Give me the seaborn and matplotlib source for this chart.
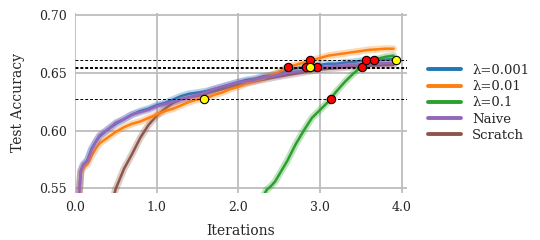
import numpy as np
import pandas as pd
import matplotlib
matplotlib.use("Agg")
import matplotlib.pyplot as plt
import seaborn as sns

# --- data ---
labels = ["λ=0.001", "λ=0.01", "λ=0.1", "Naive", "Scratch"]
colors = ["#1f77b4", "#ff7f0e", "#2ca02c", "#9467bd", "#8c564b"]

x_main = [0.05, 0.07, 0.1, 0.15, 0.2, 0.25, 0.3, 0.4, 0.5, 0.6, 0.7, 0.8, 0.9,
          1.0, 1.1, 1.2, 1.3, 1.4, 1.5, 1.6, 1.7, 1.8, 1.9, 2.0, 2.1, 2.2, 2.3,
          2.4, 2.5, 2.6, 2.7, 2.8, 2.9, 3.0, 3.1, 3.2, 3.3, 3.4, 3.5, 3.6, 3.7,
          3.8, 3.9]
acc_l0001 = [0.545, 0.565, 0.570, 0.574, 0.584, 0.590, 0.595, 0.601, 0.606, 0.610,
             0.614, 0.617, 0.619, 0.622, 0.624, 0.627, 0.630, 0.632, 0.633, 0.634,
             0.636, 0.638, 0.640, 0.642, 0.644, 0.645, 0.647, 0.648, 0.650, 0.652,
             0.654, 0.655, 0.656, 0.657, 0.658, 0.658, 0.659, 0.6595, 0.6605,
             0.661, 0.661, 0.6615, 0.662]
acc_l001 = [0.545, 0.563, 0.568, 0.571, 0.578, 0.584, 0.589, 0.594, 0.599, 0.603,
            0.606, 0.608, 0.611, 0.614, 0.617, 0.619, 0.622, 0.625, 0.627, 0.628,
            0.631, 0.633, 0.636, 0.638, 0.641, 0.643, 0.645, 0.648, 0.651, 0.655,
            0.657, 0.659, 0.661, 0.663, 0.665, 0.666, 0.667, 0.668, 0.669, 0.670,
            0.6705, 0.671, 0.671]
acc_naive = [0.545, 0.565, 0.571, 0.574, 0.583, 0.590, 0.596, 0.601, 0.607, 0.610,
             0.614, 0.616, 0.618, 0.621, 0.623, 0.625, 0.627, 0.629, 0.631, 0.633,
             0.636, 0.638, 0.640, 0.642, 0.643, 0.644, 0.646, 0.647, 0.648, 0.650,
             0.651, 0.652, 0.6535, 0.6545, 0.6555, 0.656, 0.6565, 0.657, 0.6575,
             0.658, 0.658, 0.6585, 0.6585]

x_l01 = [2.3, 2.35, 2.4, 2.45, 2.5, 2.6, 2.7, 2.8, 2.9, 3.0, 3.1, 3.2, 3.3, 3.4,
         3.5, 3.6, 3.7, 3.8, 3.9]
acc_l01 = [0.543, 0.549, 0.552, 0.556, 0.562, 0.574, 0.588, 0.600, 0.611, 0.618,
           0.625, 0.634, 0.642, 0.649, 0.655, 0.659, 0.662, 0.664, 0.665]

x_scratch = [0.48, 0.5, 0.6, 0.7, 0.8, 0.9, 1.0, 1.1, 1.2, 1.3, 1.4, 1.5, 1.6,
             1.8, 2.0, 2.5, 3.0, 3.5, 3.9]
acc_scratch = [0.545, 0.550, 0.567, 0.580, 0.594, 0.605, 0.613, 0.619, 0.624,
               0.627, 0.629, 0.630, 0.632, 0.636, 0.640, 0.647, 0.653, 0.656, 0.657]

thresholds = [0.661, 0.6555, 0.654, 0.6277]

red_x = [3.14, 2.61, 2.83, 2.96, 3.51, 2.88, 3.56, 3.66]
red_y = [0.6277, 0.6548, 0.6548, 0.6548, 0.6548, 0.661, 0.661, 0.661]
yellow_x = [1.58, 2.88, 3.93]
yellow_y = [0.6277, 0.6548, 0.661]

# build long table
series = [(x_main, acc_l0001), (x_main, acc_l001), (x_l01, acc_l01),
          (x_main, acc_naive), (x_scratch, acc_scratch)]
frames = []
for lab, (xs, ys) in zip(labels, series):
    frames.append(pd.DataFrame({"iter": xs, "acc": ys, "method": lab}))
df = pd.concat(frames, ignore_index=True)

sns.set_style("whitegrid")
plt.rcParams["font.family"] = ["DejaVu Serif"]

fig = plt.figure(figsize=(5.4, 2.4), dpi=100)
ax = fig.add_axes([0.139, 0.196, 0.614, 0.75])

palette = dict(zip(labels, colors))
draw_order = ["Scratch", "λ=0.001", "λ=0.01", "λ=0.1", "Naive"]

for i, lab in enumerate(draw_order):
    sub = df[df["method"] == lab]
    # soft band behind each curve
    sns.lineplot(data=sub, x="iter", y="acc", color=palette[lab], lw=5,
                 alpha=0.3, ax=ax, legend=False, zorder=2 + i)
    sns.lineplot(data=sub, x="iter", y="acc", color=palette[lab], lw=1.8,
                 ax=ax, legend=False, zorder=2 + i)

for t in thresholds:
    ax.axhline(t, color="black", lw=0.7, ls=(0, (3, 2)), zorder=8)

ax.scatter(red_x, red_y, s=36, color="red", edgecolor="black", lw=0.8, zorder=10)
ax.scatter(yellow_x, yellow_y, s=36, color="yellow", edgecolor="black", lw=0.8, zorder=10)

ax.set_xlim(0, 4.06)
ax.set_ylim(0.546, 0.702)
ax.set_xticks([0, 1, 2, 3, 4])
ax.set_xticklabels(["0.0", "1.0", "2.0", "3.0", "4.0"])
ax.set_yticks([0.55, 0.60, 0.65, 0.70])
ax.set_yticklabels(["0.55", "0.60", "0.65", "0.70"])
ax.grid(True, color="#bdbdbd", lw=1.3)
for s in ax.spines.values():
    s.set_visible(False)
ax.tick_params(axis="both", length=4, width=1.0, color="#bdbdbd", labelsize=9,
               pad=2)
ax.set_xlabel("Iterations", fontsize=10, labelpad=7)
ax.set_ylabel("Test Accuracy", fontsize=10, labelpad=10)

handles = [plt.Line2D([], [], color=c, lw=2.8) for c in colors]
ax.legend(handles, labels, loc="center left", bbox_to_anchor=(1.03, 0.50),
          frameon=False, fontsize=9.5, handlelength=2.5, labelspacing=0.25,
          handletextpad=0.8)

fig.savefig("out.png", dpi=100)
